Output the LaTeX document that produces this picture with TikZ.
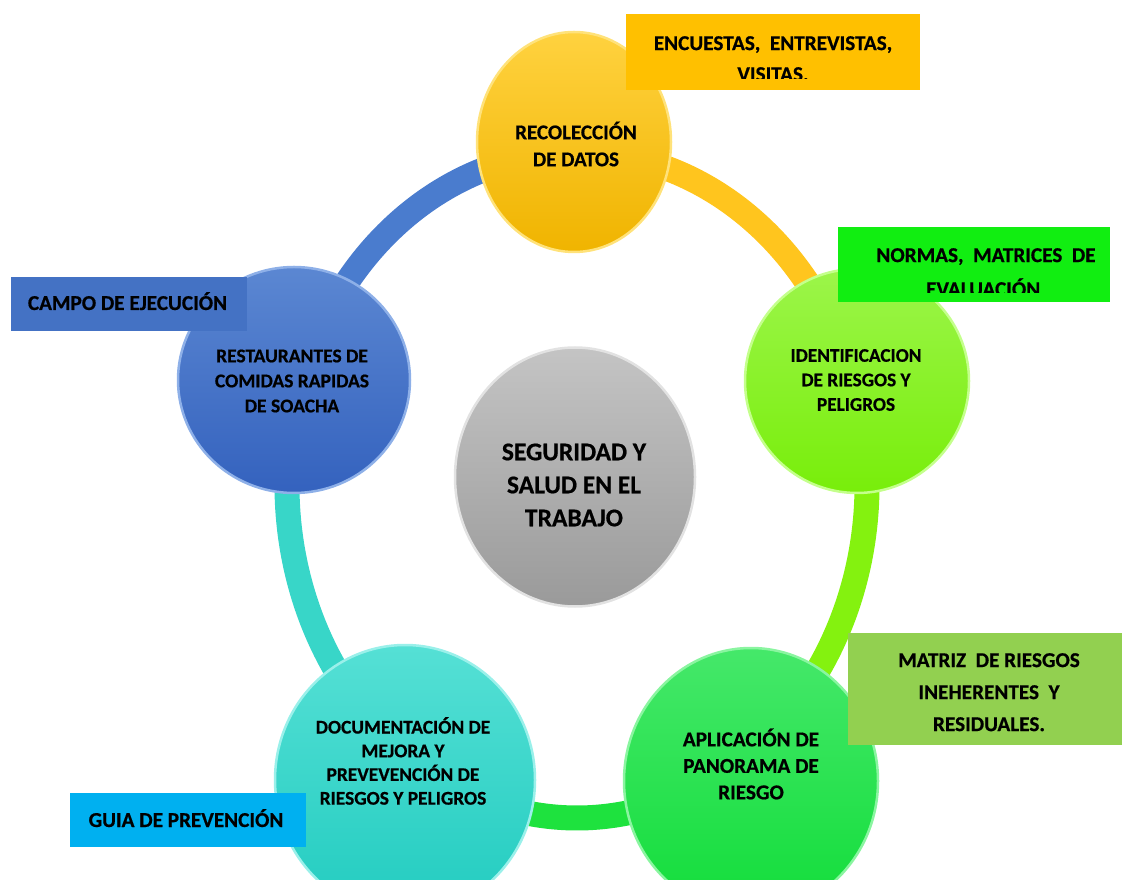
\documentclass[tikz,border=0pt]{standalone}
\usepackage{fontspec}
\setmainfont{Carlito}[BoldFeatures={FakeBold=0.6}]
\usetikzlibrary{shapes.geometric}
\definecolor{yelT}{HTML}{FFD23F}\definecolor{yelB}{HTML}{F0B400}\definecolor{yelR}{HTML}{FFE27A}
\definecolor{limT}{HTML}{9CF54A}\definecolor{limB}{HTML}{78EE0A}\definecolor{limR}{HTML}{C4FF8C}
\definecolor{grnT}{HTML}{45E86A}\definecolor{grnB}{HTML}{12DD3A}\definecolor{grnR}{HTML}{8AF5A0}
\definecolor{teaT}{HTML}{55E0D5}\definecolor{teaB}{HTML}{22CCC0}\definecolor{teaR}{HTML}{9AF0EA}
\definecolor{bluT}{HTML}{5B87D2}\definecolor{bluB}{HTML}{3462BE}\definecolor{bluR}{HTML}{8EB0E8}
\definecolor{gryT}{HTML}{C4C4C4}\definecolor{gryB}{HTML}{9A9A9A}\definecolor{gryR}{HTML}{E2E2E2}
\definecolor{ringY}{HTML}{FFC51E}\definecolor{ringL}{HTML}{84F20F}\definecolor{ringG}{HTML}{1EE23E}
\definecolor{ringT}{HTML}{38D6C8}\definecolor{ringB}{HTML}{4A7CCE}
\definecolor{bxY}{HTML}{FFC000}\definecolor{bxG}{HTML}{11EE11}\definecolor{bxB}{HTML}{4472C4}
\definecolor{bxL}{HTML}{92D050}\definecolor{bxC}{HTML}{00B0F0}
\begin{document}
\begin{tikzpicture}[x=1pt,y=1pt,
  bubble/.style={ellipse, inner sep=0pt, line width=2.5pt},
  ctxt/.style={align=center, font=\bfseries\fontsize{19.5}{25}\selectfont, inner sep=0pt, text=black},
  tagbox/.style={rectangle, inner sep=0pt, draw=none},
  btxt/.style={align=center, font=\bfseries\fontsize{21.2}{31}\selectfont, inner sep=0pt, text=black},
  ringseg/.style={line width=25pt},
  rarc/.style={x radius=290pt, y radius=333pt}
]
\useasboundingbox (0,0) rectangle (1124,879);
% ring
\coordinate (C) at (577,394);
\path (C) ++(90:290pt and 333pt) coordinate (r1);
\path (C) ++(18:290pt and 333pt) coordinate (r2);
\path (C) ++(-56:290pt and 333pt) coordinate (r3);
\path (C) ++(-124:290pt and 333pt) coordinate (r4);
\path (C) ++(162:290pt and 333pt) coordinate (r5);
\draw[ringseg, ringY] (r1) arc[rarc, start angle=90, end angle=18];
\draw[ringseg, ringL] (r2) arc[rarc, start angle=18, end angle=-56];
\draw[ringseg, ringG] (r3) arc[rarc, start angle=-56, end angle=-124];
\draw[ringseg, ringT] (r4) arc[rarc, start angle=-124, end angle=-198];
\draw[ringseg, ringB] (r5) arc[rarc, start angle=162, end angle=90];
% circles
\node[bubble, minimum width=194pt, minimum height=220pt, top color=yelT, bottom color=yelB, draw=yelR] (rec) at (574,737) {};
\node[bubble, minimum width=224pt, minimum height=224pt, top color=limT, bottom color=limB, draw=limR] (ide) at (857,498) {};
\node[bubble, minimum width=254pt, minimum height=266pt, top color=grnT, bottom color=grnB, draw=grnR] (apl) at (751,98) {};
\node[bubble, minimum width=260pt, minimum height=270pt, top color=teaT, bottom color=teaB, draw=teaR] (doc) at (405,99) {};
\node[bubble, minimum width=232pt, minimum height=226pt, top color=bluT, bottom color=bluB, draw=bluR] (res) at (294,499) {};
\node[bubble, minimum width=240pt, minimum height=259pt, top color=gryT, bottom color=gryB, draw=gryR] (seg) at (575,402) {};
% circle texts
\node[ctxt, font=\bfseries\fontsize{21}{27}\selectfont] (rec-t) at (576,735) {RECOLECCIÓN\\DE DATOS};
\node[ctxt, font=\bfseries\fontsize{19.3}{24.5}\selectfont] (ide-t) at (856,499) {IDENTIFICACION\\DE RIESGOS Y\\PELIGROS};
\node[ctxt] (res-t) at (292,498) {RESTAURANTES DE\\COMIDAS RAPIDAS\\DE SOACHA};
\node[ctxt, font=\bfseries\fontsize{21.2}{26.5}\selectfont] (apl-t) at (751,115) {APLICACIÓN DE\\PANORAMA DE\\RIESGO};
\node[ctxt, font=\bfseries\fontsize{19.4}{23.7}\selectfont] (doc-t) at (403,118) {DOCUMENTACIÓN DE\\MEJORA Y\\PREVEVENCIÓN DE\\RIESGOS Y PELIGROS};
\node[ctxt, font=\bfseries\fontsize{25.5}{33}\selectfont] (seg-t) at (574,394) {SEGURIDAD Y\\SALUD EN EL\\TRABAJO};
% boxes
\node[tagbox, fill=bxY, minimum width=294pt, minimum height=76pt] (enc) at (773,827) {};
\begin{scope}
\clip (626,800) rectangle (920,865);
\node[btxt, anchor=north] (enc-t) at (773,843) {ENCUESTAS,\ \ ENTREVISTAS,\\VISITAS.};
\end{scope}
\node[tagbox, fill=bxG, minimum width=272pt, minimum height=75pt] (nor) at (974,614.5) {};
\begin{scope}
\clip (838,586) rectangle (1110,652);
\node[btxt, anchor=north, font=\bfseries\fontsize{21.2}{34}\selectfont] (nor-t) at (986,631) {NORMAS,\ \ MATRICES\ \ DE\\EVALUACIÓN.};
\end{scope}
\node[tagbox, fill=bxB, minimum width=236pt, minimum height=54pt] (cam) at (129,575) {};
\node[btxt, anchor=base] (cam-t) at (127.5,569) {CAMPO DE EJECUCIÓN};
\node[tagbox, fill=bxL, minimum width=274pt, minimum height=112pt] (mat) at (985,190) {};
\node[btxt, anchor=north, font=\bfseries\fontsize{21.2}{32}\selectfont] (mat-t) at (989,226) {MATRIZ\ \ DE RIESGOS\\INEHERENTES\ \ Y\\RESIDUALES.};
\node[tagbox, fill=bxC, minimum width=236pt, minimum height=54pt] (gui) at (188,59) {};
\node[btxt, anchor=base] (gui-t) at (186,52) {GUIA DE PREVENCIÓN};
\end{tikzpicture}
\end{document}
